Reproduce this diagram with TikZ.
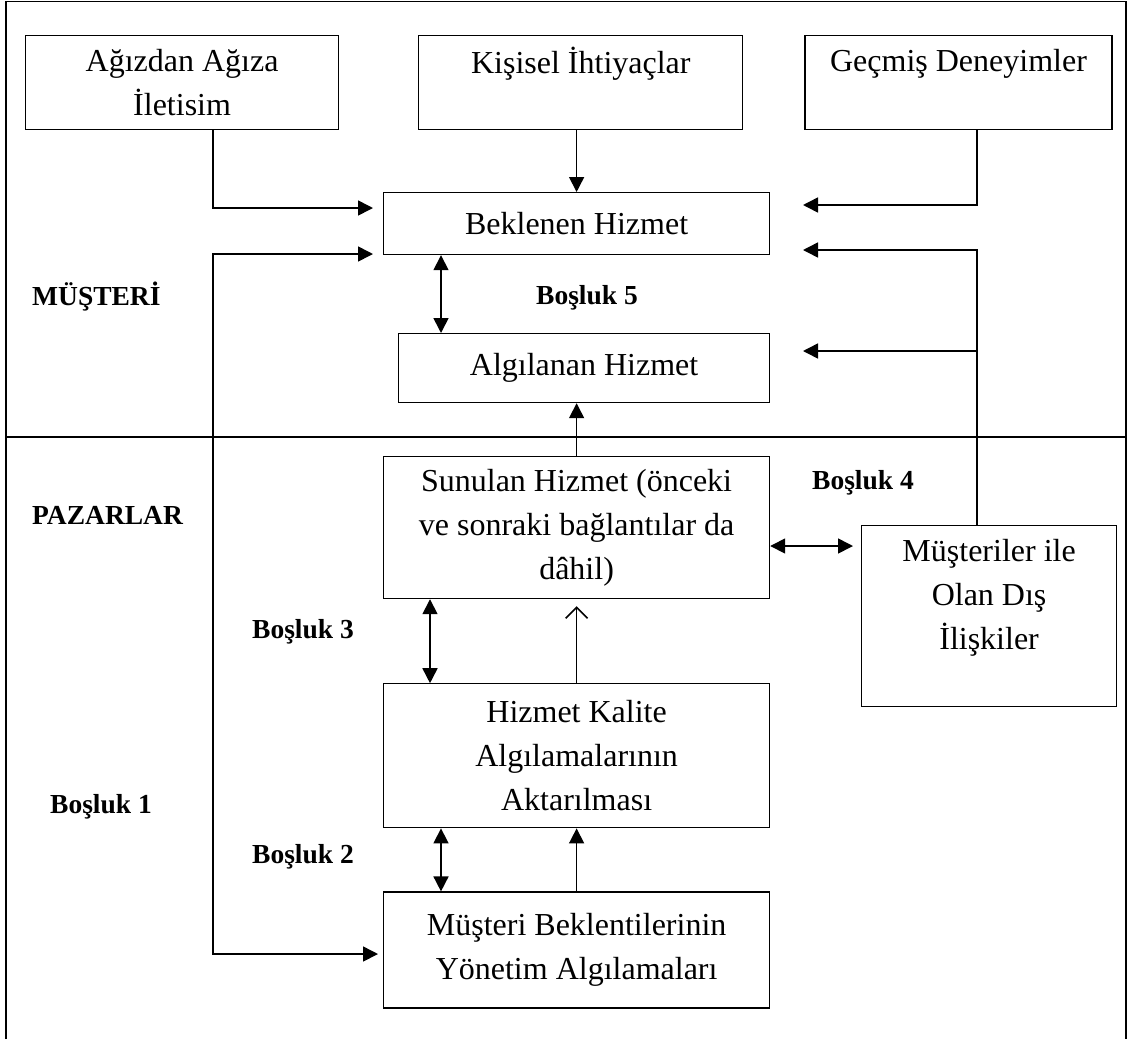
\documentclass[tikz,border=0pt]{standalone}
\usepackage{fontspec}
\setmainfont{Liberation Serif}
\usetikzlibrary{positioning,arrows.meta}
\newcommand{\boxfont}{\fontsize{32}{44}\selectfont}
\newcommand{\gapfont}{\fontsize{27.5}{33}\selectfont\bfseries}
\tikzset{
  block/.style={
    draw,
    rectangle,
    line width=1.2pt,
    inner sep=2pt,
    align=center,
    font=\boxfont
  },
  gaplabel/.style={
    font=\gapfont,
    inner sep=0pt
  },
  line/.style={->,>={Triangle[length=15pt,width=15pt]},line width=1.6pt},
  openline/.style={->,>={Straight Barb[length=11pt,width=22pt]},line width=1.6pt},
  frame/.style={line width=1.6pt}
}
\begin{document}
\begin{tikzpicture}[x=1pt,y=-1pt]
\useasboundingbox (0,0) rectangle (1131,1039);

				\draw[frame] (6,1039) -- (6,1.5) -- (1126,1.5) -- (1126,1039);
				\draw[frame] (6,437) -- (1126,437);

				\node[block, minimum width=313pt, minimum height=94pt, anchor=north west] (wom) at (25,35) {Ağızdan Ağıza\\İletisim};
				\node[block, minimum width=324pt, minimum height=94pt, right = 79pt of wom] (needs) {Kişisel İhtiyaçlar\\ \mbox{}};
				\node[block, minimum width=307pt, minimum height=94pt, right = 61pt of needs] (past) {Geçmiş Deneyimler\\ \mbox{}};

				\node[block, minimum width=386pt, minimum height=62pt, anchor=north west] (expected) at (383,192) {Beklenen Hizmet};
				\node[block, minimum width=371pt, minimum height=69pt, anchor=north west] (perceived) at (398,333) {Algılanan Hizmet};

				\node[block, minimum width=386pt, minimum height=142pt, anchor=north west] (delivery) at (383,456) {Sunulan Hizmet (önceki\\ve sonraki bağlantılar da\\dâhil)};
				\node[block, minimum width=386pt, minimum height=144pt, below = 84pt of delivery] (transl) {Hizmet Kalite\\Algılamalarının\\Aktarılması};
				\node[block, minimum width=386pt, minimum height=116pt, below = 63pt of transl] (mgmt) {Müşteri Beklentilerinin\\Yönetim Algılamaları};
				\node[block, minimum width=255pt, minimum height=181pt, anchor=north west] (external) at (861,525) {Müşteriler ile\\Olan Dış\\İlişkiler\\ \mbox{}};

				\node[gaplabel, anchor=west] (customer) at (32,297) {MÜŞTERİ};
				\node[gaplabel, anchor=west] (markets) at (32,515) {PAZARLAR};
				\node[gaplabel] (gap5) at (587,298) {Boşluk 5};
				\node[gaplabel] (gap4) at (863,483) {Boşluk 4};
				\node[gaplabel] (gap3) at (303,632) {Boşluk 3};
				\node[gaplabel] (gap2) at (303,857) {Boşluk 2};
				\node[gaplabel] (gap1) at (101,807) {Boşluk 1};

				% left side
				\coordinate (womturn) at (213,208);
				\coordinate (womin) at (373,208);
				\draw[line] (wom.south -| womturn) -- (womturn) -- (womin);
				\draw[line] (needs.south -| delivery.north) -- (expected.north -| delivery.north);

				\coordinate (g1in) at (373,254);
				\coordinate (g1turn) at (213,954);
				\coordinate (mgmtin) at (378,954);
				\draw[line, <->] (g1in) -| (g1turn) -- (mgmtin);

				% right side
				\coordinate (pastturn) at (977,205);
				\coordinate (pastin) at (803,205);
				\draw[line] (past.south -| pastturn) -- (pastturn) -- (pastin);

				\coordinate (extturn) at (977,250);
				\coordinate (extin) at (803,250);
				\coordinate (extmid) at (977,351);
				\coordinate (extin2) at (803,351);
				\draw[line] (external.north -| extturn) -- (extturn) -- (extin);
				\draw[line] (extmid) -- (extin2);

				% gaps
				\coordinate (g5x) at (441,0);
				\draw[line, <->] (expected.south -| g5x) -- (perceived.north -| g5x);
				\draw[line] (delivery.north) -- (perceived.south -| delivery.north);

				\coordinate (g4y) at (0,546);
				\draw[line, <->] (delivery.east |- g4y) -- ([xshift=-8pt]external.west |- g4y);

				\coordinate (g3x) at (430,0);
				\draw[line, <->] (delivery.south -| g3x) -- (transl.north -| g3x);
				\draw[openline] (transl.north) -- ([yshift=-7pt]delivery.south);

				\coordinate (g2x) at (441,0);
				\draw[line, <->] (transl.south -| g2x) -- (mgmt.north -| g2x);
				\draw[line] (mgmt.north) -- (transl.south);

\end{tikzpicture}
\end{document}
